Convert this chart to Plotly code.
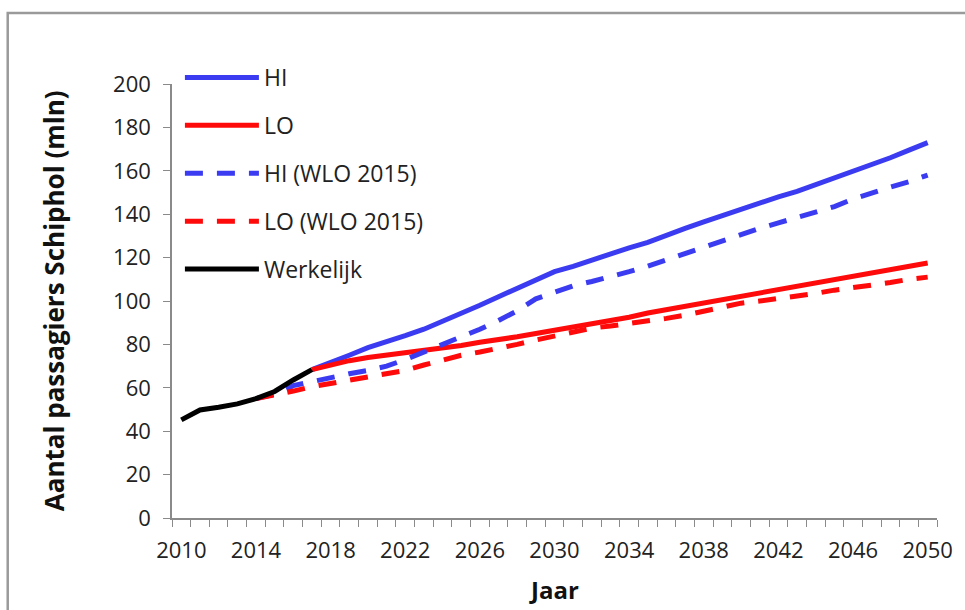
import plotly.graph_objects as go

# ---------------- data ----------------
years_obs = list(range(2010, 2018))
werkelijk = [45.2, 49.8, 51.0, 52.6, 55.0, 58.3, 63.6, 68.4]

years_scen = list(range(2017, 2051))
hi = [68.4, 72, 75, 78.5, 81, 84, 87, 90.5, 94, 98, 102, 106, 110, 113.5,
      116, 119, 121.5, 124.5, 127, 130.5, 133.5, 136.5, 139.5, 142.5, 145.5,
      148, 150.5, 153.5, 156.5, 160, 163, 166, 169.5, 173]
lo = [68.4, 70.5, 72.5, 74, 75, 76, 77, 78, 79.5, 81, 82, 83.5, 85, 86.5,
      87.5, 89, 90.5, 92.5, 94.5, 96, 98, 99.5, 101, 102.5, 104, 105.5, 107,
      108.5, 110, 111.5, 113, 114.5, 116, 117.5]

years_wlo = list(range(2014, 2051))
hi_wlo = [55, 57, 61, 63, 65, 66.5, 68, 70, 73, 76.5, 80, 83, 87, 91, 95.5,
          101, 104, 107, 109, 111, 113.5, 116, 119, 122, 125, 127.5, 130.5,
          133.5, 136, 138.5, 141, 143.5, 147, 150, 152.5, 155, 158]
lo_wlo = [55, 56.5, 58.5, 60.5, 62, 63.5, 65, 66.5, 68, 70.5, 73, 75, 76.5,
          78, 80, 82, 84, 86, 87.5, 88.5, 89.5, 91, 92, 93.5, 95.5, 97, 99,
          100, 101, 102.5, 103.5, 105, 106, 107.5, 108.5, 110, 111]

x_tick_labels = [str(y) for y in range(2010, 2051, 4)]
y_tick_vals = list(range(0, 201, 20))

# ---------------- style ----------------
BLUE = "#3B3BF2"
RED = "#FF0A0A"
FONT = "Open Sans"
LW = 5
DASH = "18px,14px"
TICKFONT = dict(size=22, family=FONT, color="#222")

fig = go.Figure()
fig.add_trace(go.Scatter(x=years_scen, y=hi, mode="lines", name="HI",
                         legendgroup="a", line=dict(color=BLUE, width=LW)))
fig.add_trace(go.Scatter(x=years_scen, y=lo, mode="lines", name="LO",
                         legendgroup="b", line=dict(color=RED, width=LW)))
fig.add_trace(go.Scatter(x=years_wlo, y=hi_wlo, mode="lines", name="HI (WLO 2015)",
                         legendgroup="c", line=dict(color=BLUE, width=LW, dash=DASH)))
fig.add_trace(go.Scatter(x=years_wlo, y=lo_wlo, mode="lines", name="LO (WLO 2015)",
                         legendgroup="d", line=dict(color=RED, width=LW, dash=DASH)))
fig.add_trace(go.Scatter(x=years_obs, y=werkelijk, mode="lines", name="Werkelijk",
                         legendgroup="e", line=dict(color="black", width=LW)))

L, R, T, B = 172, 20, 84, 92
W, H = 965, 610
pw, ph = W - L - R, H - T - B

def px_x(p):
    return (p - L) / pw

def px_y(p):
    return (H - B - p) / ph

fig.update_layout(
    width=W, height=H,
    margin=dict(l=L, r=R, t=T, b=B),
    paper_bgcolor="white", plot_bgcolor="white",
    font=dict(family=FONT, size=22, color="#222"),
    showlegend=True,
    legend=dict(x=px_x(180), y=px_y(56), xanchor="left", yanchor="top",
                bgcolor="rgba(0,0,0,0)", font=dict(size=23, family=FONT, color="#222"),
                tracegroupgap=15, itemwidth=74, traceorder="grouped"),
    xaxis=dict(range=[2009.5, 2050.5],
               tickvals=list(range(2010, 2051, 4)), ticktext=x_tick_labels,
               ticks="", showgrid=False, zeroline=False,
               showline=True, linecolor="#8a8a8a", linewidth=1.5,
               tickfont=TICKFONT,
               ticklabelstandoff=12,
               minor=dict(tick0=2009.5, dtick=1, ticks="outside", ticklen=7,
                          tickcolor="#8a8a8a", tickwidth=1, showgrid=False)),
    yaxis=dict(range=[0, 200], tickvals=y_tick_vals,
               ticks="outside", ticklen=7, tickcolor="#8a8a8a", tickwidth=1,
               showgrid=False, zeroline=False,
               showline=True, linecolor="#8a8a8a", linewidth=1.5,
               tickfont=TICKFONT,
               ticklabelstandoff=8),
    annotations=[
        dict(text="<b>Aantal passagiers Schiphol (mln)</b>", xref="paper", yref="paper",
             x=px_x(53), y=px_y(301), textangle=-90, showarrow=False,
             xanchor="center", yanchor="middle",
             font=dict(size=26, family=FONT, color="#111")),
        dict(text="<b>Jaar</b>", xref="paper", yref="paper",
             x=px_x(558), y=px_y(589), showarrow=False,
             xanchor="center", yanchor="middle",
             font=dict(size=24, family=FONT, color="#111")),
    ],
    shapes=[
        dict(type="rect", xref="paper", yref="paper",
             x0=px_x(6), x1=px_x(990), y0=px_y(640), y1=px_y(13),
             line=dict(color="#9a9a9a", width=2.5), fillcolor="rgba(0,0,0,0)",
             layer="below"),
    ],
)

fig.write_html("out.html",
               config={"displayModeBar": False},
               post_script="document.body.style.margin='0px';document.body.style.overflow='hidden';")
